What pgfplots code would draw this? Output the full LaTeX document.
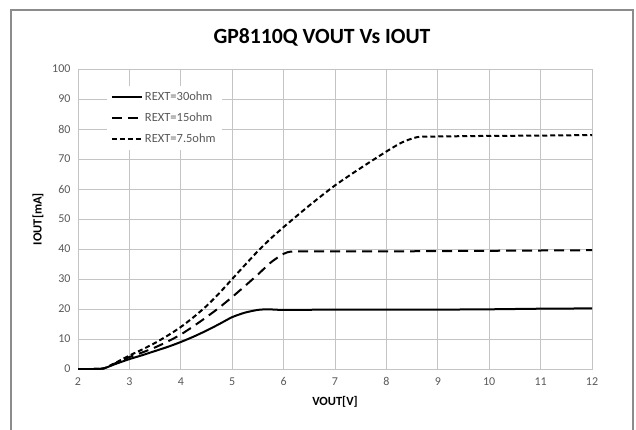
\documentclass[border=0pt]{standalone}
\usepackage{pgfplots}
\pgfplotsset{compat=1.18}
\usepackage{fontspec}
\setmainfont{Carlito}
\definecolor{tickgray}{HTML}{595959}
\definecolor{gridgray}{HTML}{C4C4C4}
\definecolor{framegray}{HTML}{8C8C8C}
\begin{document}
\begin{tikzpicture}[x=1pt,y=1pt]
\useasboundingbox (0,0) rectangle (636,429);
\draw[framegray,line width=1.2pt] (11,-5) -- (11,419) -- (633,419) -- (633,-5);
\node[font=\fontsize{21.7}{26}\selectfont\bfseries] at (322,392) {GP8110Q VOUT Vs IOUT};
\begin{axis}[
  at={(78pt,60pt)}, anchor=origin,
  scale only axis, width=514pt, height=300pt,
  xmin=2, xmax=12, ymin=0, ymax=100,
  xtick={2,3,...,12}, ytick={0,10,...,100},
  grid=major, major grid style={gridgray,line width=0.8pt},
  axis line style={gridgray,line width=0.8pt},
  major tick length=0pt,
  tick label style={font=\fontsize{12}{14}\selectfont, text=tickgray},
  /pgf/number format/assume math mode=true,
  xticklabel style={yshift=-5pt},
  yticklabel style={xshift=-4pt},
  xlabel={VOUT[V]}, ylabel={IOUT[mA]},
  label style={font=\fontsize{12.5}{14}\selectfont\bfseries},
  xlabel style={at={(0.5,0)}, anchor=center, yshift=-33pt},
  ylabel style={at={(0,0.5)}, anchor=center, yshift=40pt},
  legend style={at={(0.056,0.945)}, anchor=north west, draw=none, fill=white,
    font=\fontsize{12.5}{14}\selectfont, text=tickgray,
    row sep=7pt, inner xsep=4pt, inner ysep=4pt},
  legend cell align=left,
  legend image code/.code={\draw[#1] (0pt,0pt) -- (30pt,0pt);},
]
\addplot[black, solid, line width=2pt, smooth, tension=0.4, no markers] coordinates {(2,0)(2.3,0)(2.5,0.2)(2.7,1.5)(3,3.3)(3.25,4.6)(3.5,6)(3.75,7.4)(4,9)(4.25,10.8)(4.5,12.8)(4.75,15)(5,17.3)(5.25,18.8)(5.5,19.7)(5.7,19.9)(6,19.7)(7,19.8)(8,19.8)(9,19.8)(10,19.9)(11,20.1)(12,20.2)};
\addlegendentry{REXT=30ohm}
\addplot[black, line width=2pt, smooth, tension=0.4, no markers, dash pattern=on 10pt off 6pt] coordinates {(2,0)(2.3,0)(2.5,0.2)(2.7,1.7)(3,4)(3.25,5.5)(3.5,7.2)(3.75,9.2)(4,11.5)(4.25,14.3)(4.5,17.3)(4.75,20.5)(5,24)(5.25,27.7)(5.5,31.5)(5.75,35.5)(6,38.4)(6.2,39.2)(7,39.2)(8,39.2)(9,39.3)(10,39.4)(11,39.5)(12,39.6)};
\addlegendentry{REXT=15ohm}
\addplot[black, line width=2pt, smooth, tension=0.4, no markers, dash pattern=on 5pt off 3pt] coordinates {(2,0)(2.3,0)(2.5,0.2)(2.7,1.8)(3,4.5)(3.25,6.5)(3.5,8.7)(3.75,11.2)(4,14)(4.25,17.3)(4.5,21)(4.75,25.3)(5,30)(5.25,34.7)(5.5,39.3)(5.75,43.5)(6,47.3)(6.5,54.5)(7,61.2)(7.5,67)(8,72.5)(8.3,75.5)(8.6,77.3)(9,77.5)(10,77.7)(11,77.8)(12,78)};
\addlegendentry{REXT=7.5ohm}
\end{axis}
\end{tikzpicture}
\end{document}
